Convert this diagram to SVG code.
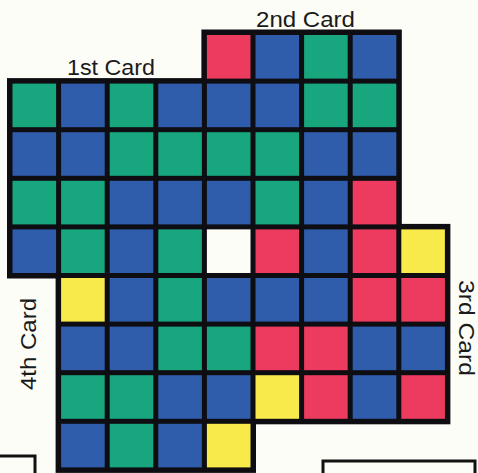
<svg xmlns="http://www.w3.org/2000/svg" width="478" height="473" viewBox="0 0 478 473">
<style>
.card{fill:#0d0d12}
.c{width:43.6px;height:43.6px}
.G{fill:#18a67f}
.B{fill:#2f5dac}
.R{fill:#ec3b5e}
.Y{fill:#f9ea4b}
.W{fill:#fdfdf7}
.lbl{font-family:"Liberation Sans",Arial,sans-serif;font-size:22px;fill:#1a1a1a}
.box{fill:none;stroke:#111;stroke-width:3}
</style>
<rect x="0" y="0" width="478" height="473" fill="#fdfdf7"/>
<g id="card1">
<rect class="card" x="7" y="78.1" width="200.4" height="200.4"/>
<text class="lbl" x="67" y="75" textLength="88" lengthAdjust="spacingAndGlyphs">1st Card</text>
</g>
<g id="card2">
<rect class="card" x="201.4" y="29.5" width="200.4" height="200.4"/>
<text class="lbl" x="256" y="27" textLength="99" lengthAdjust="spacingAndGlyphs">2nd Card</text>
</g>
<g id="card3">
<rect class="card" x="250" y="223.9" width="200.4" height="200.4"/>
<text class="lbl" transform="translate(459,328) rotate(90)" text-anchor="middle" font-size="21" textLength="96" lengthAdjust="spacingAndGlyphs">3rd Card</text>
</g>
<g id="card4">
<rect class="card" x="55.6" y="272.5" width="200.4" height="200.4"/>
<text class="lbl" transform="translate(36,344) rotate(-90)" text-anchor="middle" textLength="92" lengthAdjust="spacingAndGlyphs">4th Card</text>
</g>
<g id="cells">
<!-- row 0 -->
<rect class="c R" x="206.9" y="35"/>
<rect class="c B" x="255.5" y="35"/>
<rect class="c G" x="304.1" y="35"/>
<rect class="c B" x="352.7" y="35"/>
<!-- row 1 -->
<rect class="c G" x="12.5" y="83.6"/>
<rect class="c B" x="61.1" y="83.6"/>
<rect class="c G" x="109.7" y="83.6"/>
<rect class="c B" x="158.3" y="83.6"/>
<rect class="c B" x="206.9" y="83.6"/>
<rect class="c B" x="255.5" y="83.6"/>
<rect class="c G" x="304.1" y="83.6"/>
<rect class="c G" x="352.7" y="83.6"/>
<!-- row 2 -->
<rect class="c B" x="12.5" y="132.2"/>
<rect class="c B" x="61.1" y="132.2"/>
<rect class="c G" x="109.7" y="132.2"/>
<rect class="c G" x="158.3" y="132.2"/>
<rect class="c G" x="206.9" y="132.2"/>
<rect class="c G" x="255.5" y="132.2"/>
<rect class="c B" x="304.1" y="132.2"/>
<rect class="c B" x="352.7" y="132.2"/>
<!-- row 3 -->
<rect class="c G" x="12.5" y="180.8"/>
<rect class="c G" x="61.1" y="180.8"/>
<rect class="c B" x="109.7" y="180.8"/>
<rect class="c B" x="158.3" y="180.8"/>
<rect class="c B" x="206.9" y="180.8"/>
<rect class="c G" x="255.5" y="180.8"/>
<rect class="c B" x="304.1" y="180.8"/>
<rect class="c R" x="352.7" y="180.8"/>
<!-- row 4 -->
<rect class="c B" x="12.5" y="229.4"/>
<rect class="c G" x="61.1" y="229.4"/>
<rect class="c B" x="109.7" y="229.4"/>
<rect class="c G" x="158.3" y="229.4"/>
<rect class="c W" x="206.9" y="229.4"/>
<rect class="c R" x="255.5" y="229.4"/>
<rect class="c B" x="304.1" y="229.4"/>
<rect class="c R" x="352.7" y="229.4"/>
<rect class="c Y" x="401.3" y="229.4"/>
<!-- row 5 -->
<rect class="c Y" x="61.1" y="278"/>
<rect class="c B" x="109.7" y="278"/>
<rect class="c G" x="158.3" y="278"/>
<rect class="c B" x="206.9" y="278"/>
<rect class="c B" x="255.5" y="278"/>
<rect class="c B" x="304.1" y="278"/>
<rect class="c R" x="352.7" y="278"/>
<rect class="c R" x="401.3" y="278"/>
<!-- row 6 -->
<rect class="c B" x="61.1" y="326.6"/>
<rect class="c B" x="109.7" y="326.6"/>
<rect class="c G" x="158.3" y="326.6"/>
<rect class="c G" x="206.9" y="326.6"/>
<rect class="c R" x="255.5" y="326.6"/>
<rect class="c R" x="304.1" y="326.6"/>
<rect class="c B" x="352.7" y="326.6"/>
<rect class="c B" x="401.3" y="326.6"/>
<!-- row 7 -->
<rect class="c G" x="61.1" y="375.2"/>
<rect class="c G" x="109.7" y="375.2"/>
<rect class="c B" x="158.3" y="375.2"/>
<rect class="c B" x="206.9" y="375.2"/>
<rect class="c Y" x="255.5" y="375.2"/>
<rect class="c R" x="304.1" y="375.2"/>
<rect class="c B" x="352.7" y="375.2"/>
<rect class="c R" x="401.3" y="375.2"/>
<!-- row 8 -->
<rect class="c B" x="61.1" y="423.8"/>
<rect class="c G" x="109.7" y="423.8"/>
<rect class="c B" x="158.3" y="423.8"/>
<rect class="c Y" x="206.9" y="423.8"/>
</g>
<g id="boxes">
<rect class="box" x="-5" y="456" width="40" height="30"/>
<rect class="box" x="323" y="461" width="152" height="30"/>
</g>
</svg>
